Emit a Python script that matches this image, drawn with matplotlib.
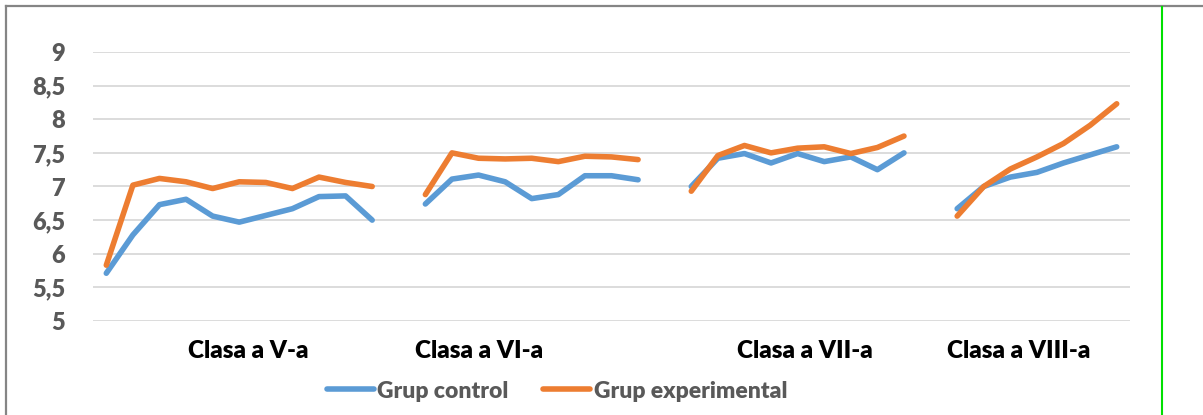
import numpy as np
import matplotlib
matplotlib.use("Agg")
import matplotlib.pyplot as plt
from matplotlib.lines import Line2D

# ---- data ----
classes = ["Clasa a V-a", "Clasa a VI-a", "Clasa a VII-a", "Clasa a VIII-a"]

control_v = [5.71, 6.28, 6.73, 6.81, 6.56, 6.47, 6.57, 6.67, 6.85, 6.86, 6.50]
control_vi = [6.74, 7.11, 7.17, 7.07, 6.82, 6.88, 7.16, 7.16, 7.10]
control_vii = [7.00, 7.42, 7.49, 7.35, 7.49, 7.37, 7.44, 7.25, 7.50]
control_viii = [6.67, 7.00, 7.14, 7.21, 7.35, 7.47, 7.59]

exp_v = [5.83, 7.02, 7.12, 7.07, 6.97, 7.07, 7.06, 6.97, 7.14, 7.06, 7.00]
exp_vi = [6.88, 7.50, 7.42, 7.41, 7.42, 7.37, 7.45, 7.44, 7.40]
exp_vii = [6.93, 7.46, 7.61, 7.50, 7.57, 7.59, 7.49, 7.58, 7.75]
exp_viii = [6.56, 7.00, 7.26, 7.44, 7.64, 7.91, 8.23]

yticks = [5, 5.5, 6, 6.5, 7, 7.5, 8, 8.5, 9]
ytick_labels = ["5", "5,5", "6", "6,5", "7", "7,5", "8", "8,5", "9"]
series_names = ["Grup control", "Grup experimental"]


def join(groups):
    out = []
    for i, g in enumerate(groups):
        if i:
            out.append(np.nan)
        out.extend(g)
    return np.array(out, dtype=float)


control = join([control_v, control_vi, control_vii, control_viii])
experimental = join([exp_v, exp_vi, exp_vii, exp_viii])
x = np.arange(len(control))

BLUE = "#5B9BD5"
ORANGE = "#ED7D31"
GRAY_TXT = "#595959"
FONT = "Lato"
WEIGHT = "heavy"

W, H = 1203, 415
fig = plt.figure(figsize=(W / 100, H / 100), dpi=100)
fig.patch.set_facecolor("white")

ax = fig.add_axes([93 / W, 1 - 321 / H, (1130 - 93) / W, (321 - 52) / H])
ax.set_xlim(-0.5, len(control) - 0.5)
ax.set_ylim(5, 9)
for s in ax.spines.values():
    s.set_visible(False)

for yv in yticks:
    ax.axhline(yv, color="#D9D9D9", lw=1.3, zorder=0)

l1, = ax.plot(x, control, color=BLUE, lw=4.0, solid_capstyle="round",
              solid_joinstyle="round", label=series_names[0], zorder=3)
l2, = ax.plot(x, experimental, color=ORANGE, lw=4.0, solid_capstyle="round",
              solid_joinstyle="round", label=series_names[1], zorder=4)

ax.set_yticks(yticks)
ax.set_yticklabels(ytick_labels, fontfamily=FONT, fontweight=WEIGHT,
                   fontsize=17, color=GRAY_TXT)
ax.tick_params(axis="y", length=0, pad=20)
ax.set_xticks([])

# category labels (layout positions in category units)
label_pos = [5.33, 14.03, 26.28, 34.33]
for name, px in zip(classes, label_pos):
    ax.text(px, -0.112, name, transform=ax.get_xaxis_transform(),
            ha="center", va="center", fontfamily=FONT, fontweight=WEIGHT,
            fontsize=17.5, color="black")

leg = fig.legend(handles=[l1, l2], loc="center",
                 bbox_to_anchor=(557 / W, 1 - 391 / H), ncol=2, frameon=False,
                 prop={"family": FONT, "weight": WEIGHT, "size": 16.5},
                 handlelength=2.05, handletextpad=0.15, columnspacing=1.5)
for t in leg.get_texts():
    t.set_color(GRAY_TXT)

# chart frame
fig.add_artist(Line2D([5.5 / W, 1.0], [1 - 6.5 / H, 1 - 6.5 / H],
                      transform=fig.transFigure, color="#858585", lw=1.6))
fig.add_artist(Line2D([5.5 / W, 5.5 / W], [0, 1 - 6.5 / H],
                      transform=fig.transFigure, color="#858585", lw=1.6))
fig.add_artist(Line2D([1161.5 / W, 1161.5 / W], [0, 1 - 7.5 / H],
                      transform=fig.transFigure, color="#00E000", lw=1.5))

fig.savefig("out.png", dpi=100, facecolor="white")
